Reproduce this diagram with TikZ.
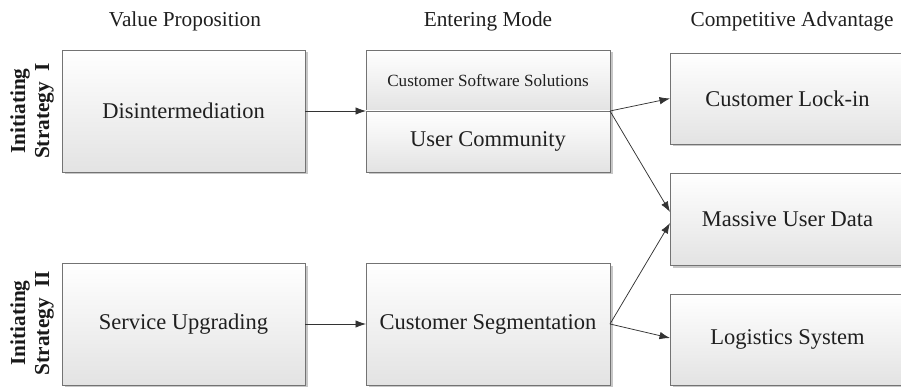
\documentclass[tikz,border=0pt]{standalone}
\usepackage{fontspec}
\setmainfont{Liberation Serif}
\usetikzlibrary{arrows.meta,shadows}
\begin{document}
\begin{tikzpicture}[x=1pt,y=-1pt,
  box/.style={rectangle, draw=black!55, line width=0.8pt,
    top color=white, bottom color=black!11,
    inner sep=0pt, outer sep=0pt, align=center, text=black!88,
    font=\fontsize{22.5}{26}\selectfont,
    drop shadow={shadow xshift=2.5pt, shadow yshift=-2.5pt, fill=black!22, opacity=1}},
  header/.style={font=\fontsize{21.3}{24}\selectfont, text=black!88, inner sep=0pt},
  side/.style={font=\fontsize{21.3}{24}\selectfont\bfseries, align=center,
    rotate=90, inner sep=0pt, text=black!90},
  link/.style={draw=black!80, line width=0.75pt, -{Latex[length=10.5pt,width=7.5pt]}}]

\clip (0,0) rectangle (901,387);

% column headings
\node[header] (hvp) at (185,21) {Value Proposition};
\node[header] (hem) at (488,21) {Entering Mode};
\node[header] (hca) at (792,21) {Competitive Advantage};

% strategy labels
\node[side] (s1) at (32,111) {Initiating\\Strategy~~I};
\node[side] (s2) at (32,323) {Initiating\\Strategy~~II};

% value propositions
\node[box, minimum width=243pt, minimum height=122pt] (dis) at (183.5,111) {Disintermediation};
\node[box, minimum width=243pt, minimum height=122pt] (svc) at (183.5,324) {Service Upgrading};

% entering modes
\node[box, minimum width=244pt, minimum height=61pt, font=\fontsize{17.1}{20}\selectfont] (css) at (488,80.5) {Customer Software Solutions};
\node[box, minimum width=244pt, minimum height=61pt] (uc) at (488,141.5) {User Community};
\node[box, minimum width=244pt, minimum height=122pt] (seg) at (488,324) {Customer Segmentation};

% competitive advantages
\node[box, minimum width=235pt, minimum height=91pt] (lock) at (787.5,98.5) {Customer Lock-in};
\node[box, minimum width=235pt, minimum height=92pt] (mass) at (787.5,219) {Massive User Data};
\node[box, minimum width=235pt, minimum height=91pt] (logi) at (787.5,339.5) {Logistics System};

% connectors
\draw[link] (dis.east) -- (css.south west);
\draw[link] (svc.east) -- (seg.west);
\draw[link] (css.south east) -- (lock.west);
\draw[link] (css.south east) -- ([yshift=7pt]mass.west);
\draw[link] (seg.east) -- ([yshift=-4pt]mass.west);
\draw[link] (seg.east) -- ([yshift=1.5pt]logi.west);
\end{tikzpicture}
\end{document}
